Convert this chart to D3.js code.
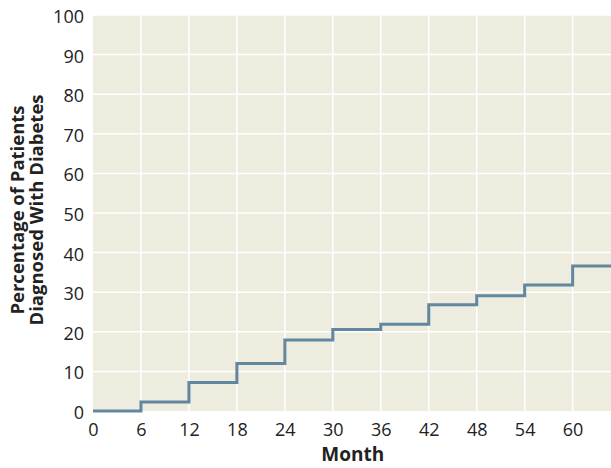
<!DOCTYPE html>
<html>
<head>
<meta charset="utf-8">
<script src="https://cdn.jsdelivr.net/npm/d3@7"></script>
<style>
  body { margin: 0; background: #fff; }
  text { font-family: "Open Sans", "Noto Sans", sans-serif; fill: #222; }
</style>
</head>
<body>
<svg id="viz" width="611" height="468"></svg>
<script>
// step starts (month) and cumulative percentage
var months = [0, 6, 12, 18, 24, 30, 36, 42, 48, 54, 60];
var percents = [0, 2.3, 7.2, 12.0, 17.9, 20.6, 21.9, 26.8, 29.1, 31.8, 36.6];
var xTicks = [0, 6, 12, 18, 24, 30, 36, 42, 48, 54, 60];
var yTicks = [0, 10, 20, 30, 40, 50, 60, 70, 80, 90, 100];
var lastMonth = 64.8;

function drawChart() {
	var margin = { left: 93, right: 0, top: 15, bottom: 57 };
	var width = 611, height = 468;
	var innerWidth = width - margin.left - margin.right;
	var innerHeight = height - margin.top - margin.bottom;

	var x = d3.scaleLinear().domain([0, lastMonth]).range([0, innerWidth]);
	var y = d3.scaleLinear().domain([0, 100]).range([innerHeight, 0]);

	var svg = d3.select("#viz");
	var g = svg.append("g")
		.attr("transform", "translate(" + margin.left + "," + margin.top + ")");

	g.append("rect")
		.attr("width", innerWidth)
		.attr("height", innerHeight)
		.attr("fill", "#eeebdf");

	// grid
	g.selectAll(".hgrid").data(yTicks.slice(1)).enter().append("line")
		.attr("x1", 0).attr("x2", innerWidth)
		.attr("y1", function(d) { return y(d); })
		.attr("y2", function(d) { return y(d); })
		.attr("stroke", "#fff").attr("stroke-width", 1.5);
	g.selectAll(".vgrid").data(xTicks.slice(1)).enter().append("line")
		.attr("y1", 0).attr("y2", innerHeight)
		.attr("x1", function(d) { return x(d); })
		.attr("x2", function(d) { return x(d); })
		.attr("stroke", "#fff").attr("stroke-width", 1.5);

	var xAxis = d3.axisBottom(x).tickValues(xTicks).tickSize(0).tickPadding(12);
	var yAxis = d3.axisLeft(y).tickValues(yTicks).tickSize(0).tickPadding(9);

	var gx = g.append("g")
		.attr("transform", "translate(0," + innerHeight + ")")
		.call(xAxis);
	var gy = g.append("g").call(yAxis);
	[gx, gy].forEach(function(a) {
		a.select(".domain").remove();
		a.selectAll("text").attr("font-size", 18).attr("fill", "#222")
			.attr("font-family", "Open Sans, Noto Sans, sans-serif");
	});
	gy.selectAll("text").attr("dy", "0.42em");

	// step line
	var pts = months.map(function(m, i) { return [m, percents[i]]; });
	pts.push([lastMonth, percents[percents.length - 1]]);
	var line = d3.line()
		.x(function(d) { return x(d[0]); })
		.y(function(d) { return y(d[1]); })
		.curve(d3.curveStepAfter);
	g.append("path")
		.datum(pts)
		.attr("d", line)
		.attr("fill", "none")
		.attr("stroke", "#6287a0")
		.attr("stroke-width", 3);

	// titles
	svg.append("text")
		.attr("x", margin.left + x(32.5))
		.attr("y", 461)
		.attr("text-anchor", "middle")
		.attr("font-size", 19)
		.attr("font-weight", "bold")
		.text("Month");

	var yt = svg.append("text")
		.attr("transform", "translate(24,210) rotate(-90)")
		.attr("text-anchor", "middle")
		.attr("font-size", 18.5)
		.attr("font-weight", "bold");
	yt.append("tspan").attr("x", 0).attr("dy", 0).text("Percentage of Patients");
	yt.append("tspan").attr("x", 0).attr("dy", 18.5).text("Diagnosed With Diabetes");
}

drawChart();
</script>
</body>
</html>
